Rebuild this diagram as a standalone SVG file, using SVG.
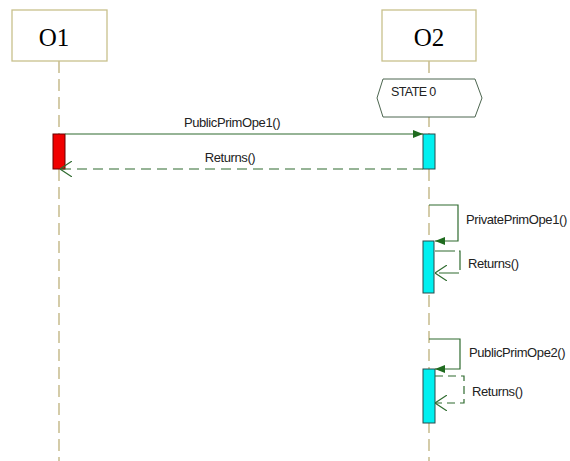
<svg xmlns="http://www.w3.org/2000/svg" width="570" height="461" viewBox="0 0 570 461">
<style>
.obj{fill:#fff;stroke:#c8c08c;stroke-width:1.3}
.objt{font-family:"Liberation Serif",serif;font-size:25px;fill:#000;text-anchor:middle}
.life{stroke:#b8aa70;stroke-width:1.2;stroke-dasharray:12,6;fill:none}
.msg{stroke:#2f6b2f;stroke-width:1.2;fill:none}
.ret{stroke:#2f6b2f;stroke-width:1.2;fill:none;stroke-dasharray:10,6}
.lbl{font-family:"Liberation Sans",sans-serif;font-size:13px;fill:#222;letter-spacing:-0.4px}
.act{fill:#00f0f0;stroke:#2a4a4a;stroke-width:1}
</style>
<defs>
<marker id="fill" viewBox="0 0 10 10" refX="10" refY="5" markerWidth="10" markerHeight="10" markerUnits="userSpaceOnUse" orient="auto"><path d="M0,1 L10,5 L0,9 Z" fill="#1f6b1f"/></marker>
<marker id="open" viewBox="0 0 12 16" refX="12" refY="8" markerWidth="12" markerHeight="16" markerUnits="userSpaceOnUse" orient="auto"><path d="M0,0 L12,8 L0,16" fill="none" stroke="#2f6b2f" stroke-width="1.1"/></marker>
</defs>
<rect width="570" height="461" fill="#fff"/>
<g id="lifelines">
<line class="life" x1="59" y1="61" x2="59" y2="461"/>
<line class="life" x1="429" y1="61" x2="429" y2="461"/>
</g>
<g id="O1">
<rect class="obj" x="12" y="10" width="95" height="51"/>
<text class="objt" x="54" y="46">O1</text>
</g>
<g id="O2">
<rect class="obj" x="382" y="10" width="94" height="51"/>
<text class="objt" x="429" y="46">O2</text>
</g>
<g id="state0">
<polygon points="377,98 383,79 475,79 482,98 475,117 383,117" fill="#fff" stroke="#4d6650" stroke-width="1"/>
<text class="lbl" x="391" y="96" style="font-size:12.5px;letter-spacing:-0.6px">STATE 0</text>
</g>
<g id="activations">
<rect x="53" y="134" width="12" height="35" fill="#f00000" stroke="#600" stroke-width="1"/>
<rect class="act" x="423" y="134" width="12" height="35"/>
<rect class="act" x="423" y="241" width="11" height="52"/>
<rect class="act" x="423" y="369" width="12" height="54"/>
</g>
<g id="connectors">
<line class="msg" x1="65" y1="134" x2="423" y2="134" marker-end="url(#fill)"/>
<line class="ret" x1="423" y1="169" x2="60" y2="169" marker-end="url(#open)"/>
<polyline class="msg" points="429,205 458,205 458,241 435,241" marker-end="url(#fill)"/>
<polyline class="ret" points="435,251 460,251 460,273 435,273" style="stroke-dasharray:20,4" marker-end="url(#open)"/>
<polyline class="msg" points="429,339 460,339 460,369 435,369" marker-end="url(#fill)"/>
<polyline class="ret" points="435,376 464,376 464,403 435,403" style="stroke-dasharray:8,5" marker-end="url(#open)"/>
</g>
<g id="labels">
<text class="lbl" x="232" y="127" text-anchor="middle">PublicPrimOpe1()</text>
<text class="lbl" x="230" y="162" text-anchor="middle">Returns()</text>
<text class="lbl" x="466" y="224">PrivatePrimOpe1()</text>
<text class="lbl" x="468" y="268">Returns()</text>
<text class="lbl" x="469" y="357">PublicPrimOpe2()</text>
<text class="lbl" x="472" y="396">Returns()</text>
</g>
</svg>
